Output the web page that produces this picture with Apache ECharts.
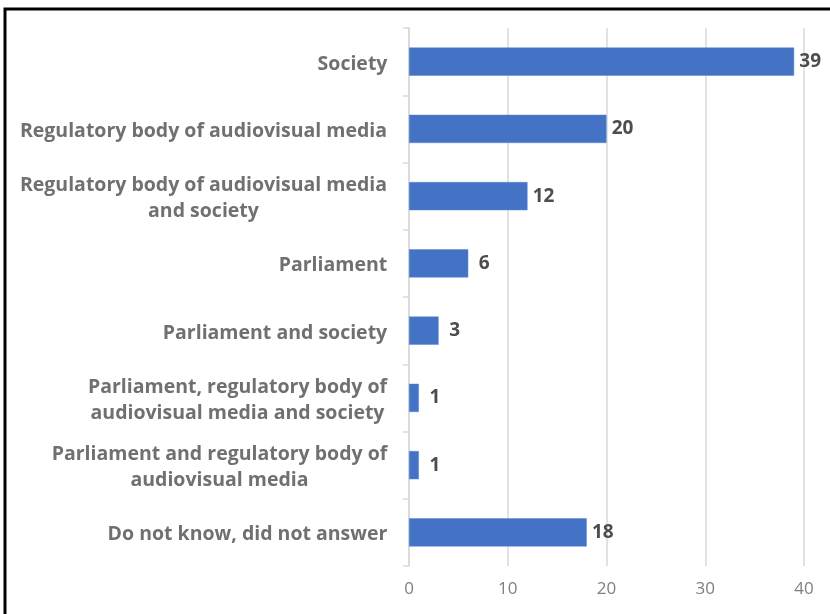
<!DOCTYPE html>
<html>
<head>
<meta charset="utf-8">
<script src="https://cdn.jsdelivr.net/npm/echarts@6/dist/echarts.min.js"></script>
<style>
  html, body { margin: 0; padding: 0; background: #fff; }
  #chart { width: 830px; height: 614px; }
</style>
</head>
<body>
<div id="chart"></div>
<script>
// Answer categories, listed top to bottom
const categories = [
  'Society',
  'Regulatory body of audiovisual media',
  'Regulatory body of audiovisual media\nand society',
  'Parliament',
  'Parliament and society',
  'Parliament, regulatory body of\naudiovisual media and society',
  'Parliament and regulatory body of\naudiovisual media',
  'Do not know, did not answer'
];
// Number of responses per category
const counts = [39, 20, 12, 6, 3, 1, 1, 18];
// Value axis ticks
const xTicks = [0, 10, 20, 30, 40];

const FONT = '"Open Sans", sans-serif';
const CAT_SIZE = 19.5;

// Multi-line category labels: lines are centred on each other, the block is right-aligned.
const measureCtx = document.createElement('canvas').getContext('2d');
measureCtx.font = 'bold ' + CAT_SIZE + 'px ' + FONT;
const catRich = {};
categories.forEach((c, i) => {
  const w = Math.max(...c.split('\n').map(s => measureCtx.measureText(s).width));
  catRich['c' + i] = {
    width: Math.ceil(w) + 1, align: 'center',
    color: '#707070', fontSize: CAT_SIZE, fontWeight: 'bold', fontFamily: FONT, lineHeight: 26
  };
});

const chart = echarts.init(document.getElementById('chart'));
chart.setOption({
  animation: false,
  backgroundColor: '#ffffff',
  grid: { left: 409, right: 26, top: 28, bottom: 48, containLabel: false },
  graphic: [{
    type: 'rect',
    shape: { x: 5, y: 9, width: 1000, height: 1000 },
    style: { fill: 'none', stroke: '#000', lineWidth: 3 },
    silent: true
  }],
  xAxis: {
    type: 'value',
    min: xTicks[0],
    max: xTicks[xTicks.length - 1],
    interval: 10,
    axisLine: { show: false },
    axisTick: { show: false },
    splitLine: { lineStyle: { color: '#d9d9d9', width: 1.5 } },
    axisLabel: {
      color: '#7f7f7f', fontSize: 17, fontFamily: FONT, margin: 15
    }
  },
  yAxis: {
    type: 'category',
    inverse: true,
    data: categories,
    axisLine: { show: true, lineStyle: { color: '#d9d9d9', width: 1.5 } },
    axisTick: { show: true, length: 6, lineStyle: { color: '#d9d9d9', width: 1.5 } },
    axisLabel: {
      margin: 21, align: 'right', padding: [5, 0, 0, 0],
      color: '#707070', fontSize: CAT_SIZE, fontWeight: 'bold', fontFamily: FONT, lineHeight: 26,
      formatter: (v, idx) => v.split('\n').map(s => '{c' + idx + '|' + s + '}').join('\n'),
      rich: catRich
    }
  },
  series: [{
    type: 'bar',
    data: counts,
    barCategoryGap: '58%',
    itemStyle: { color: '#4472c4', borderColor: '#5b88d6', borderWidth: 0.5 },
    label: {
      show: true, position: 'right', distance: 3,
      formatter: '{v|{c}}',
      rich: {
        v: { width: 26, align: 'center', color: '#4d4d4d', fontSize: 19, fontWeight: 'bold', fontFamily: FONT }
      }
    }
  }]
});
</script>
</body>
</html>
